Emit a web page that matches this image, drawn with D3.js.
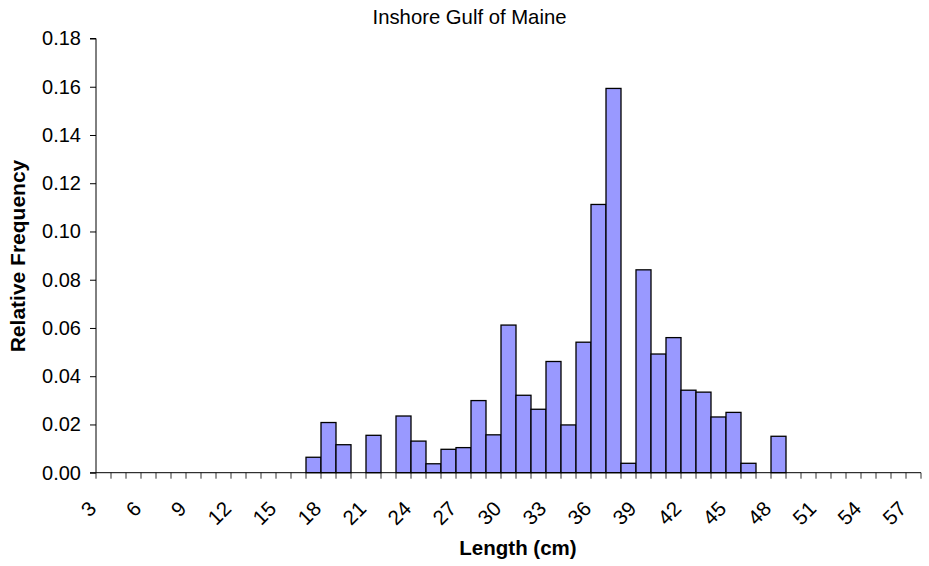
<!DOCTYPE html>
<meta charset="utf-8">
<head>
  <title>Inshore Gulf of Maine</title>
</head>

<style>
body {
  margin: 0;
  background: #fff;
  font-family: "Liberation Sans", Arial, sans-serif;
}
</style>

<body>
  <div id="content">
    <svg width="929" height="566"></svg>
  </div>

  <script src="https://cdnjs.cloudflare.com/ajax/libs/d3/7.8.5/d3.min.js"></script>

  <script>
// length classes (cm), 3 .. 57
var lengths = d3.range(3, 58);
// relative frequency, from 17 cm up to 48 cm
var freqStart = 17;
var freqs = [0.0064, 0.0208, 0.0116, 0, 0.0155, 0, 0.0235, 0.0131, 0.0037,
  0.0097, 0.0104, 0.0299, 0.0157, 0.0612, 0.0321, 0.0263, 0.0461, 0.0198,
  0.0541, 0.1112, 0.1593, 0.0039, 0.0841, 0.0492, 0.0560, 0.0342, 0.0334,
  0.0231, 0.0250, 0.0039, 0, 0.0151];
var yTicks = [0, 0.02, 0.04, 0.06, 0.08, 0.10, 0.12, 0.14, 0.16, 0.18];
var xLabels = d3.range(3, 58, 3);

var data = lengths.map(function(l) {
  var i = l - freqStart;
  return {len: l, value: (i >= 0 && i < freqs.length) ? freqs[i] : 0};
});

var svg = d3.select('#content svg');
var plotLeft = 96, plotRight = 921, plotTop = 38.5, plotBottom = 472.7;

var x = d3.scaleBand()
  .domain(lengths)
  .range([plotLeft, plotRight])
  .padding(0);

var y = d3.scaleLinear()
  .domain([0, 0.18])
  .range([plotBottom, plotTop]);

// bars
svg.append('g')
  .selectAll('rect')
  .data(data.filter(function(d) { return d.value > 0; }))
  .join('rect')
  .attr('x', function(d) { return x(d.len); })
  .attr('y', function(d) { return y(d.value); })
  .attr('width', x.bandwidth())
  .attr('height', function(d) { return y(0) - y(d.value); })
  .attr('fill', '#9999ff')
  .attr('stroke', '#000')
  .attr('stroke-width', 1.3);

// y axis
var yAxis = svg.append('g')
  .attr('transform', 'translate(' + plotLeft + ',0)')
  .call(d3.axisLeft(y).tickValues(yTicks).tickFormat(d3.format('.2f')).tickSize(6).tickPadding(9));
yAxis.select('.domain').attr('d', 'M-6,' + plotTop + 'H0V' + plotBottom);
yAxis.selectAll('text')
  .attr('font-family', '"Liberation Sans", Arial, sans-serif')
  .attr('font-size', '20px')
  .attr('fill', '#000');

// x axis: ticks at category boundaries
var bounds = lengths.map(function(l) { return x(l); }).concat([plotRight]);
var xAxis = svg.append('g');
xAxis.selectAll('line')
  .data(bounds)
  .join('line')
  .attr('x1', function(d) { return d; })
  .attr('x2', function(d) { return d; })
  .attr('y1', plotBottom)
  .attr('y2', plotBottom + 6)
  .attr('stroke', '#333');
xAxis.append('line')
  .attr('x1', plotLeft - 6).attr('x2', plotRight)
  .attr('y1', plotBottom).attr('y2', plotBottom)
  .attr('stroke', '#000');
xAxis.selectAll('text')
  .data(xLabels)
  .join('text')
  .attr('transform', function(d) {
    return 'translate(' + (x(d) + x.bandwidth() / 2 - 6) + ',510) rotate(-45)';
  })
  .attr('text-anchor', 'end')
  .attr('font-size', '20.5px')
  .text(function(d) { return d; });

// titles
svg.append('text')
  .attr('x', 469.5).attr('y', 24)
  .attr('text-anchor', 'middle')
  .attr('font-size', '20.3px')
  .text('Inshore Gulf of Maine');

svg.append('text')
  .attr('x', 518).attr('y', 555)
  .attr('text-anchor', 'middle')
  .attr('font-size', '20.5px')
  .attr('font-weight', 'bold')
  .text('Length (cm)');

svg.append('text')
  .attr('transform', 'translate(25,256) rotate(-90)')
  .attr('text-anchor', 'middle')
  .attr('font-size', '21px')
  .attr('font-weight', 'bold')
  .text('Relative Frequency');
  </script>
</body>
</html>
